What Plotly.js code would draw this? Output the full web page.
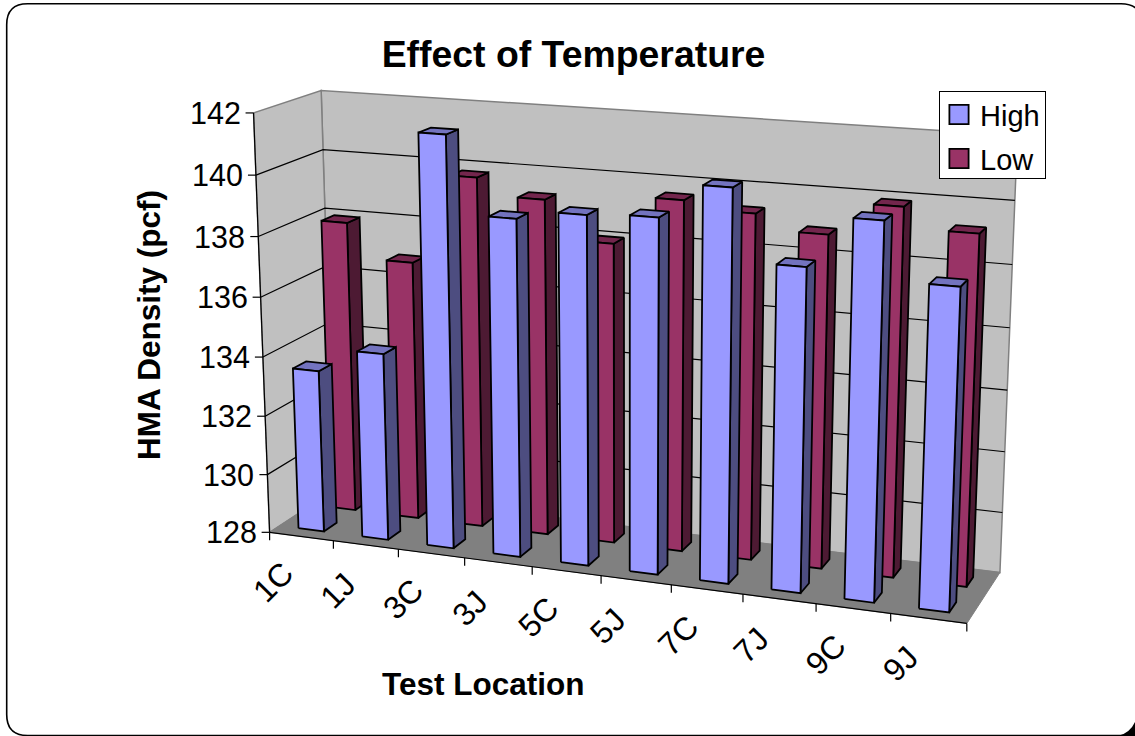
<!DOCTYPE html>
<html>
<head>
<meta charset="utf-8">
<script src="https://cdn.plot.ly/plotly-3.0.1.min.js"></script>
<style>html,body{margin:0;padding:0;background:#fff;overflow:hidden}#c{width:1135px;height:736px}</style>
</head>
<body>
<div id="c"></div>
<script>
const categories = ["1C","1J","3C","3J","5C","5J","7C","7J","9C","9J"];
const highValues = [133.5,134.3,141.6,139.1,139.4,139.5,140.6,138.35,139.95,138.15];
const lowValues  = [137.95,136.8,139.8,139.25,138.0,139.58,139.33,138.85,139.9,139.25];
const yTicks = [128,130,132,134,136,138,140,142];
const yMin = 128, yMax = 142;

// Corners of the 3D box on the page: [across, depth, height] -> [page x, page y]
const boxCorners = [
  [[0,0,0],[269.3,532.7]], [[0,0,1],[254,112.7]], [[0,1,1],[320.7,90.7]], [[0,1,0],[334,490]],
  [[1,1,0],[1000,572.7]], [[1,1,1],[1017.5,135.5]], [[1,0,0],[966.7,623.3]]
];

// Fit a perspective projection to the box corners (least squares)
function fitProjection(pts){
  const A=[],b=[];
  pts.forEach(([[x,y,z],[px,py]])=>{
    const X=px/1000,Y=py/1000;
    A.push([x,y,z,1,0,0,0,0,-X*x,-X*y,-X*z]);b.push(X);
    A.push([0,0,0,0,x,y,z,1,-Y*x,-Y*y,-Y*z]);b.push(Y);
  });
  const n=11,M=[];
  for(let i=0;i<n;i++){M.push(new Array(n+1).fill(0));
    for(let j=0;j<n;j++)for(let r=0;r<A.length;r++)M[i][j]+=A[r][i]*A[r][j];
    for(let r=0;r<A.length;r++)M[i][n]+=A[r][i]*b[r];}
  for(let i=0;i<n;i++){let p=i;for(let r=i+1;r<n;r++)if(Math.abs(M[r][i])>Math.abs(M[p][i]))p=r;
    [M[i],M[p]]=[M[p],M[i]];
    for(let r=0;r<n;r++){if(r===i)continue;const f=M[r][i]/M[i][i];for(let c=i;c<=n;c++)M[r][c]-=f*M[i][c];}}
  return M.map((row,i)=>row[n]/row[i]);
}
const P = fitProjection(boxCorners);
function project(u,d,h){
  const w=P[8]*u+P[9]*d+P[10]*h+1;
  return [1000*(P[0]*u+P[1]*d+P[2]*h+P[3])/w, 1000*(P[4]*u+P[5]*d+P[6]*h+P[7])/w];
}
const hOf = v => (v-yMin)/(yMax-yMin);

function polys(list){
  const x=[],y=[];
  list.forEach(poly=>{poly.forEach(p=>{const q=project(p[0],p[1],p[2]);x.push(q[0]);y.push(q[1]);});
    const q=project(poly[0][0],poly[0][1],poly[0][2]);x.push(q[0]);y.push(q[1]);x.push(null);y.push(null);});
  return {x,y};
}
function polyTrace(list,fill,lineColor,lineWidth){
  const c=polys(list);
  return {type:"scatter",mode:"lines",x:c.x,y:c.y,fill:"toself",fillcolor:fill,
    line:{color:lineColor,width:lineWidth},hoverinfo:"skip",showlegend:false};
}
function lineTrace(segs,color,width){
  const x=[],y=[];
  segs.forEach(s=>{s.forEach(q=>{x.push(q[0]);y.push(q[1]);});x.push(null);y.push(null);});
  return {type:"scatter",mode:"lines",x,y,line:{color,width},hoverinfo:"skip",showlegend:false};
}

const barStart=0.03, barWide=0.04, slotCount=categories.length;
function barFaces(values,d0,d1){
  const front=[],side=[],top=[];
  values.forEach((v,i)=>{
    const a=i/slotCount+barStart,b=a+barWide,h=hOf(v);
    front.push([[a,d0,0],[b,d0,0],[b,d0,h],[a,d0,h]]);
    side.push([[b,d0,0],[b,d1,0],[b,d1,h],[b,d0,h]]);
    top.push([[a,d0,h],[b,d0,h],[b,d1,h],[a,d1,h]]);
  });
  return {front,side,top};
}
const low=barFaces(lowValues,0.65,0.85), high=barFaces(highValues,0.15,0.35);

const HIGH="#9999FF",HIGH_SIDE="#4D4D80",HIGH_TOP="#7373BF",LOW="#993366",LOW_SIDE="#4D1A33",LOW_TOP="#73264D";
const EDGE=1.8;

const traces=[
  polyTrace([[[0,1,0],[1,1,0],[1,1,1],[0,1,1]]],"#C0C0C0","#808080",1.5),
  polyTrace([[[0,0,0],[0,1,0],[0,1,1],[0,0,1]]],"#C0C0C0","#808080",1.5),
  polyTrace([[[0,0,0],[1,0,0],[1,1,0],[0,1,0]]],"#808080","#808080",1),
  lineTrace(yTicks.slice(1,-1).flatMap(t=>{const h=hOf(t);return [[project(0,0,h),project(0,1,h),project(1,1,h)]];}),"#000",1.2),
  lineTrace([[project(0,0,0),project(1,0,0)],[project(0,0,0),project(0,0,1)]],"#000",1.2),
  lineTrace(yTicks.map(t=>{const q=project(0,0,hOf(t));return [[q[0]-8,q[1]],q];}),"#000",1.2),
  lineTrace(categories.concat([""]).map((c,i)=>{const q=project(i/slotCount,0,0);return [q,[q[0],q[1]+8]];}),"#000",1.2),
  polyTrace(low.side,LOW_SIDE,"#000",EDGE),
  polyTrace(low.top,LOW_TOP,"#000",EDGE),
  polyTrace(low.front,LOW,"#000",EDGE),
  polyTrace(high.side,HIGH_SIDE,"#000",EDGE),
  polyTrace(high.top,HIGH_TOP,"#000",EDGE),
  polyTrace(high.front,HIGH,"#000",EDGE),
  {type:"scatter",mode:"markers",name:"High",x:[null],y:[null],marker:{symbol:"square",size:16,color:HIGH,line:{color:"#000",width:1.5}},hoverinfo:"skip"},
  {type:"scatter",mode:"markers",name:"Low",x:[null],y:[null],marker:{symbol:"square",size:16,color:LOW,line:{color:"#000",width:1.5}},hoverinfo:"skip"}
];

const FONT="Liberation Sans, Arial, sans-serif";
const annotations=[];
yTicks.forEach(t=>{const q=project(0,0,hOf(t));
  annotations.push({x:q[0]-11,y:q[1],xref:"x",yref:"y",text:String(t),showarrow:false,xanchor:"right",yanchor:"middle",font:{family:FONT,size:30.5,color:"#000"}});});
categories.forEach((c,i)=>{const q=project((i+0.5)/slotCount,0,0);
  annotations.push({x:q[0]-28,y:q[1]+46,xref:"x",yref:"y",text:c,showarrow:false,textangle:-45,xanchor:"center",yanchor:"middle",font:{family:FONT,size:32,color:"#000"}});});
annotations.push({x:149,y:325,xref:"x",yref:"y",text:"<b>HMA Density (pcf)</b>",showarrow:false,textangle:-90,font:{family:FONT,size:31.5,color:"#000"}});
annotations.push({x:483,y:684,xref:"x",yref:"y",text:"<b>Test Location</b>",showarrow:false,font:{family:FONT,size:31.5,color:"#000"}});

const L=6.7,T=3.7,R=1142,B=735.5,r=21;
const layout={
  width:1135,height:736,margin:{l:0,r:0,t:0,b:0,pad:0},
  paper_bgcolor:"#fff",plot_bgcolor:"#fff",showlegend:true,
  title:{text:"<b>Effect of Temperature</b>",x:573.5/1135,xanchor:"center",y:1-54/736,yanchor:"middle",font:{family:FONT,size:37.4,color:"#000"}},
  xaxis:{range:[0,1135],visible:false,fixedrange:true},
  yaxis:{range:[736,0],visible:false,fixedrange:true},
  legend:{x:939/1135,xanchor:"left",y:1-91/736,yanchor:"top",bgcolor:"#fff",bordercolor:"#000",borderwidth:1,
    font:{family:FONT,size:29,color:"#000"},itemsizing:"trace",itemwidth:30,tracegroupgap:0},
  annotations,
  shapes:[
    {type:"path",xref:"x",yref:"y",layer:"above",
     path:`M ${L+r} ${T} L ${R-r} ${T} Q ${R} ${T} ${R} ${T+r} L ${R} ${B-r} Q ${R} ${B} ${R-r} ${B} L ${L+r} ${B} Q ${L} ${B} ${L} ${B-r} L ${L} ${T+r} Q ${L} ${T} ${L+r} ${T} Z`,
     line:{color:"#000",width:1.6}},
    {type:"path",xref:"x",yref:"y",layer:"above",path:"M 1135 722 Q 1130 733 1118 736 L 1135 736 Z",fillcolor:"#000",line:{width:0}}
  ]
};
Plotly.newPlot("c",traces,layout,{displayModeBar:false,staticPlot:true}).then(()=>{
  // Legend rows: larger swatches and the reference's row positions
  const rows=document.querySelectorAll(".legend .traces");
  const rowY=[23.5,67.5];
  rows.forEach((g,i)=>{
    const m=/translate\(([^,]+),/.exec(g.getAttribute("transform")||"");
    g.setAttribute("transform",`translate(${m?m[1]:1},${rowY[i]})`);
    const pt=g.querySelector(".legendpoints path");
    if(pt) pt.setAttribute("transform","translate(19,0) scale(1.2)");
  });
  const bg=document.querySelector(".legend .bg");
  if(bg) bg.setAttribute("height",87);
});
</script>
</body>
</html>
